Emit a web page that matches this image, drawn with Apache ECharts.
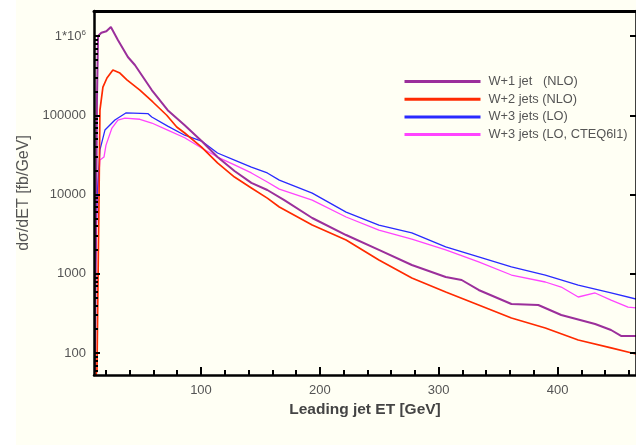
<!DOCTYPE html>
<html>
<head>
<meta charset="utf-8">
<script src="https://cdn.jsdelivr.net/npm/echarts@6/dist/echarts.min.js"></script>
<style>html,body{margin:0;padding:0;background:#fffff4;}#c{width:636px;height:445px;}</style>
</head>
<body>
<div id="c"></div>
<script>
// ---- data (x: leading jet ET [GeV], y: dσ/dET [fb/GeV]) ----
var seriesNames = ['W+1 jet   (NLO)', 'W+2 jets (NLO)', 'W+3 jets (LO)', 'W+3 jets (LO, CTEQ6l1)'];

var w1X = [10.8, 12.5, 13.4, 16.2, 20.4, 24.2, 30.1, 38.5, 44.4, 58.6, 72.0, 86.3, 100.5, 113.9, 128.2, 142.4, 155.8, 170.1, 193.6, 222.1, 249.7, 277.4, 305.9, 319.3, 333.6, 361.2, 383.8, 403.1, 431.6, 445.0, 453.4, 466];
var w1Y = [61, 156000, 1000000, 1100000, 1150000, 1300000, 890000, 543000, 431000, 208000, 116000, 75000, 47300, 29700, 19800, 14000, 11400, 8500, 5050, 3080, 2000, 1290, 910, 834, 624, 415, 403, 302, 232, 195, 164, 164];

var w2X = [11.7, 12.5, 14.2, 15.0, 17.5, 20.9, 25.9, 31.8, 37.7, 48.6, 59.5, 71.2, 79.6, 86.3, 100.5, 113.9, 128.2, 142.4, 155.8, 165.9, 193.6, 222.1, 249.7, 277.4, 305.9, 333.6, 361.2, 389.7, 417.4, 445.0, 466];
var w2Y = [53, 61, 8500, 116000, 227000, 295000, 372000, 341000, 279000, 208000, 147000, 100000, 71000, 59700, 39700, 25000, 16600, 12100, 9000, 6950, 4120, 2670, 1490, 884, 589, 403, 276, 207, 146, 116, 97];

var w3X = [10.8, 12.5, 15.0, 19.2, 27.6, 36.8, 55.3, 58.6, 72.0, 86.3, 100.5, 113.9, 128.2, 142.4, 155.8, 165.9, 193.6, 222.1, 249.7, 277.4, 305.9, 333.6, 361.2, 389.7, 417.4, 445.0, 466];
var w3Y = [834, 8500, 36500, 65000, 87000, 107000, 105000, 95000, 73000, 56000, 47300, 33400, 27200, 22200, 18700, 15200, 10400, 6000, 4120, 3270, 2180, 1630, 1220, 964, 721, 572, 480];

var w3cX = [10.8, 12.5, 15.0, 18.4, 20.1, 25.1, 30.1, 36.0, 48.6, 58.6, 72.0, 86.3, 100.5, 113.9, 128.2, 142.4, 155.8, 165.9, 193.6, 222.1, 249.7, 277.4, 305.9, 333.6, 361.2, 389.7, 403.1, 417.4, 431.6, 445.0, 459.3, 466];
var w3cY = [466, 8500, 27200, 29700, 42000, 69000, 87000, 92000, 89000, 79800, 65000, 52000, 38600, 29700, 23600, 18700, 14400, 11700, 8500, 5200, 3560, 2740, 2000, 1410, 964, 787, 680, 509, 572, 466, 380, 370];

var xTickLabels = [100, 200, 300, 400];
var xMinorTicks = [20, 40, 60, 80, 120, 140, 160, 180, 220, 240, 260, 280, 320, 340, 360, 380, 420, 440, 460];
var yTickLabels = [100, 1000, 10000, 100000, 1000000];
var yTickText = ['100', '1000', '10000', '100000', '{a|1*10}{b|6}'];

var colors = ['#9b2f9b', '#ff2a00', '#2a2aff', '#ff44ff'];
var widths = [2, 1.7, 1.3, 1.3];

// ---- build ----
var LX = [w1X, w2X, w3X, w3cX], LY = [w1Y, w2Y, w3Y, w3cY];
function pairs(xs, ys) { return xs.map(function (x, i) { return [x, Math.log10(ys[i])]; }); }
var XMIN = 10, XMAX = 466, YMIN = 1.7224, YMAX = 6.3155;
var yMinor = [];
for (var n = 1; n <= 6; n++) for (var k = 2; k <= 9; k++) {
  var lv = Math.log10(k * Math.pow(10, n));
  if (lv > YMIN && lv < YMAX) yMinor.push(lv);
}
var yMajor = yTickLabels.map(function (v) { return Math.log10(v); });

var axisBlack = { lineStyle: { color: '#000', width: 2.5 } };
var font = 'Liberation Sans, Arial, sans-serif';
var tickStyle = { color: '#000', width: 2 };

var chart = echarts.init(document.getElementById('c'), null, { renderer: 'canvas' });
chart.setOption({
  backgroundColor: '#fffff4',
  animation: false,
  graphic: [{ type: 'rect', left: 0, top: 0, shape: { width: 16, height: 445 }, style: { fill: '#ffffff' }, z: -10 }],
  grid: { left: 94, top: 11, width: 544, height: 364, containLabel: false },
  legend: {
    left: 398, top: 70, orient: 'vertical', itemWidth: 76, itemHeight: 14, itemGap: 4.7,
    data: seriesNames,
    lineStyle: { width: 3 },
    itemStyle: { opacity: 0 },
    textStyle: { fontFamily: font, fontSize: 12.8, color: '#555', padding: [0, 0, 0, 3] }
  },
  xAxis: [
    {
      type: 'value', position: 'bottom', min: XMIN, max: XMAX, z: 10,
      axisLine: axisBlack,
      axisTick: { show: true, inside: true, length: 8, lineStyle: tickStyle, customValues: xTickLabels },
      axisLabel: { customValues: xTickLabels, fontFamily: font, fontSize: 13, color: '#555', margin: 9 },
      splitLine: { show: false },
      name: 'Leading jet ET [GeV]', nameLocation: 'middle', nameGap: 25,
      nameTextStyle: { fontFamily: font, fontSize: 15.5, fontWeight: 'bold', color: '#444' }
    },
    {
      type: 'value', position: 'bottom', min: XMIN, max: XMAX, z: 10,
      axisLine: { show: false },
      axisTick: { show: true, inside: true, length: 5, lineStyle: tickStyle, customValues: xMinorTicks },
      axisLabel: { show: false }, splitLine: { show: false }
    },
    {
      type: 'value', position: 'top', min: XMIN, max: XMAX, z: 10,
      axisLine: { lineStyle: { color: '#000', width: 3 } },
      axisTick: { show: false }, axisLabel: { show: false }, splitLine: { show: false }
    }
  ],
  yAxis: [
    {
      type: 'value', position: 'left', min: YMIN, max: YMAX, z: 10,
      axisLine: axisBlack,
      axisTick: { show: true, inside: true, length: 6, lineStyle: tickStyle, customValues: yMajor },
      axisLabel: {
        customValues: yMajor, fontFamily: font, fontSize: 13, color: '#555', margin: 8,
        formatter: function (v) {
          for (var i = 0; i < yMajor.length; i++) if (Math.abs(yMajor[i] - v) < 1e-6) return yTickText[i];
          return '';
        },
        rich: { a: { fontFamily: font, fontSize: 13, color: '#555' }, b: { fontFamily: font, fontSize: 8, color: '#555', verticalAlign: 'top', padding: [0, 0, 6, 0] } }
      },
      splitLine: { show: false },
      name: 'dσ/dET [fb/GeV]', nameLocation: 'middle', nameGap: 57, nameRotate: 90,
      nameTextStyle: { fontFamily: font, fontSize: 16, color: '#555' }
    },
    {
      type: 'value', position: 'left', min: YMIN, max: YMAX, z: 10,
      axisLine: { show: false },
      axisTick: { show: true, inside: true, length: 4, lineStyle: tickStyle, customValues: yMinor },
      axisLabel: { show: false }, splitLine: { show: false }
    },
    {
      type: 'value', position: 'right', min: YMIN, max: YMAX, z: 10,
      axisLine: axisBlack,
      axisTick: { show: true, inside: true, length: 6, lineStyle: tickStyle, customValues: yMajor },
      axisLabel: { show: false }, splitLine: { show: false }
    }
  ],
  series: seriesNames.map(function (nm, i) {
    return {
      name: nm, type: 'line', xAxisIndex: 0, yAxisIndex: 0, symbol: 'none',
      data: pairs(LX[i], LY[i]),
      itemStyle: { color: colors[i] },
      lineStyle: { color: colors[i], width: widths[i] },
      clip: true, z: 3 - i
    };
  })
});
</script>
</body>
</html>
